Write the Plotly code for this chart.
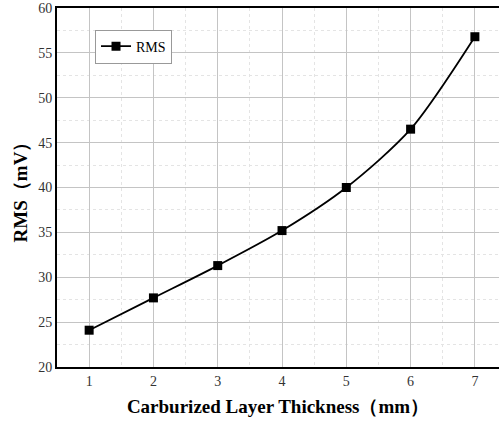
import plotly.graph_objects as go

thickness = [1, 2, 3, 4, 5, 6, 7]
rms = [24.1, 27.7, 31.3, 35.2, 40.0, 46.5, 56.8]
x_ticks = [1, 2, 3, 4, 5, 6, 7]
y_ticks = [20, 25, 30, 35, 40, 45, 50, 55, 60]

fig = go.Figure()
fig.add_trace(go.Scatter(
    x=thickness, y=rms, name="RMS", mode="lines+markers",
    line=dict(color="black", width=1.8, shape="spline", smoothing=0.8),
    marker=dict(symbol="square", size=9, color="black"),
))

serif = "Liberation Serif"
fig.update_layout(
    width=499, height=423,
    margin=dict(l=57, r=0, t=8, b=56, autoexpand=False),
    paper_bgcolor="white", plot_bgcolor="white",
    font=dict(family=serif, color="#333", size=14),
    showlegend=True,
    legend=dict(x=0.086, y=0.94, xanchor="left", yanchor="top",
                bordercolor="#999", borderwidth=1, bgcolor="white",
                font=dict(family=serif, size=14, color="black"),
                itemwidth=30, tracegroupgap=0),
    xaxis=dict(
        range=[0.5, 7.375], tickvals=x_ticks, ticks="", automargin=False,
        showline=True, linecolor="black", linewidth=2, mirror=True,
        showgrid=True, gridcolor="#c4c4c4", gridwidth=1,
        minor=dict(dtick=0.5, tick0=0.5, showgrid=True, gridcolor="#e4e4e4", griddash="dot", gridwidth=1),
        zeroline=False, ticklabeloverflow="allow",
        tickfont=dict(family=serif, size=14, color="#333"),
        title=dict(text="<b>Carburized Layer Thickness（mm）</b>", font=dict(family=serif, size=19, color="black"), standoff=12),
    ),
    yaxis=dict(
        range=[20, 60], tickvals=y_ticks, ticks="", automargin=False,
        showline=True, linecolor="black", linewidth=2, mirror=False,
        showgrid=True, gridcolor="#c4c4c4", gridwidth=1,
        minor=dict(dtick=2.5, tick0=20, showgrid=True, gridcolor="#e4e4e4", griddash="dot", gridwidth=1),
        zeroline=False, ticklabeloverflow="allow",
        tickfont=dict(family=serif, size=14, color="#333"),
        title=dict(text="<b>RMS（mV）</b>", font=dict(family=serif, size=19, color="black"), standoff=6),
    ),
)
fig.write_html("out.html", config={"displayModeBar": False},
               post_script="document.body.style.margin='0';document.body.style.overflow='hidden';")
